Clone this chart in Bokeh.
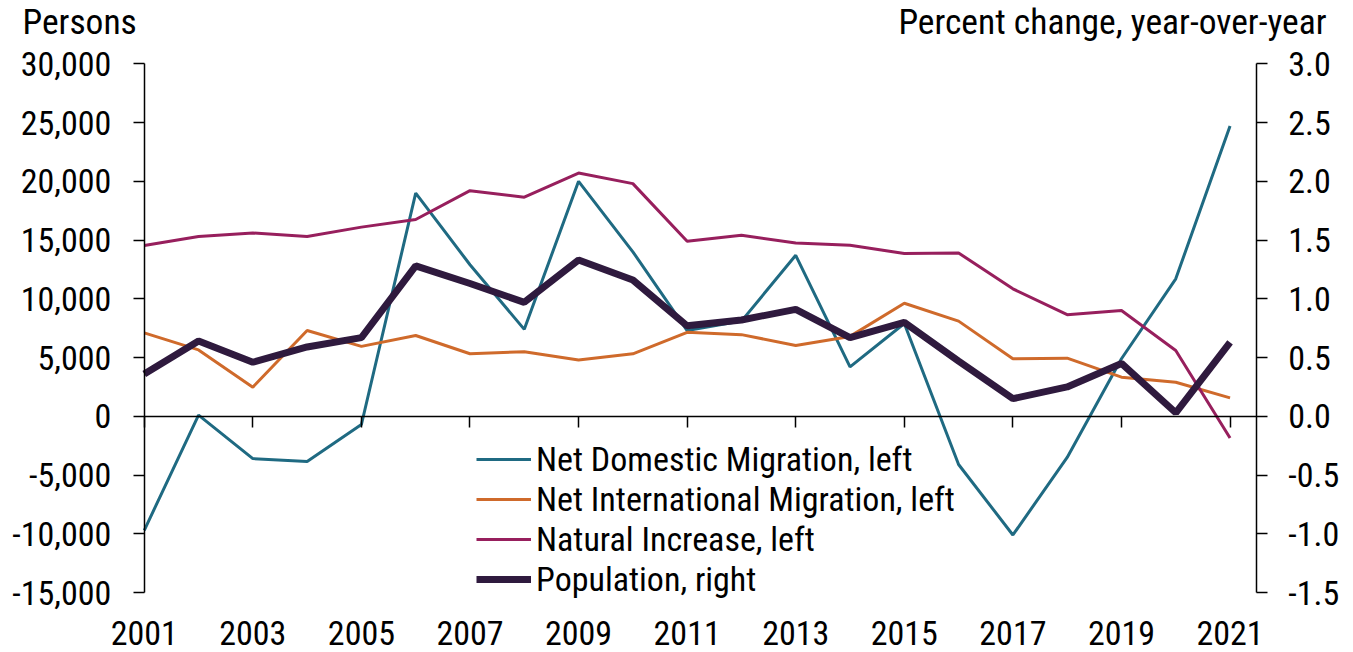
from bokeh.plotting import figure
from bokeh.models import (Range1d, LinearAxis, FixedTicker, NumeralTickFormatter,
                          Legend, LegendItem, Label)
from bokeh.embed import file_html
from bokeh.resources import INLINE

years = list(range(2001, 2022))
net_domestic = [-9700, 100, -3600, -3850, -700, 19000, 12900, 7400, 20000, 14000, 7300,
                8100, 13700, 4200, 7900, -4100, -10100, -3500, 4900, 11700, 24700]
net_international = [7100, 5650, 2480, 7300, 5950, 6880, 5320, 5500, 4800, 5320, 7150,
                     6950, 6030, 6800, 9620, 8100, 4900, 4950, 3330, 2900, 1570]
natural_increase = [14530, 15300, 15600, 15300, 16100, 16750, 19200, 18650, 20700, 19800, 14900,
                    15400, 14750, 14550, 13850, 13900, 10850, 8650, 9000, 5600, -1850]
population = [0.36, 0.64, 0.46, 0.59, 0.67, 1.28, 1.13, 0.97, 1.33, 1.16, 0.77,
              0.82, 0.91, 0.67, 0.80, 0.47, 0.15, 0.25, 0.45, 0.03, 0.63]

left_ticks = [-15000, -10000, -5000, 0, 5000, 10000, 15000, 20000, 25000, 30000]
right_ticks = [-1.5, -1.0, -0.5, 0.0, 0.5, 1.0, 1.5, 2.0, 2.5, 3.0]
year_ticks = [2001, 2003, 2005, 2007, 2009, 2011, 2013, 2015, 2017, 2019, 2021]

FONT = "Roboto Condensed"
FS = "34px"
FS_TITLE = "35.5px"
C_DOM = "#1f6a82"
C_INT = "#cf6a2b"
C_NAT = "#971f5d"
C_POP = "#2f1a3e"

W, H = 1353, 652
X_END = 2021.483  # right axis position
p = figure(width=W, height=H, output_backend="svg", toolbar_location=None,
           x_range=Range1d(1998.352, 2023.274), y_range=Range1d(-20102, 35387),
           min_border_left=0, min_border_right=0, min_border_top=0, min_border_bottom=0)
p.extra_y_ranges = {"right": Range1d(-2.0102, 3.5387)}
p.xgrid.visible = False
p.ygrid.visible = False
p.outline_line_color = None
p.background_fill_color = "white"
p.border_fill_color = "white"


def style_axis(ax, tick_out=11, standoff=22):
    ax.major_tick_out = tick_out
    ax.major_tick_in = 0
    ax.minor_tick_out = 0
    ax.minor_tick_in = 0
    ax.axis_line_width = 1.5
    ax.major_tick_line_width = 1.5
    ax.major_label_standoff = standoff
    ax.major_label_text_font = FONT
    ax.major_label_text_font_size = FS
    ax.major_label_text_color = "black"


# left axis at 2001
ya = p.yaxis[0]
ya.fixed_location = 2001
ya.bounds = (-15000, 30000)
ya.ticker = FixedTicker(ticks=left_ticks)
ya.formatter = NumeralTickFormatter(format="0,0")
style_axis(ya, 11, 22)

# right axis
ra = LinearAxis(y_range_name="right", ticker=FixedTicker(ticks=right_ticks),
                formatter=NumeralTickFormatter(format="0.0"), bounds=(-1.5, 3.0),
                fixed_location=X_END)
style_axis(ra, 11, 21)
p.add_layout(ra, "right")

# bottom labels axis (at -15000, labels only)
xa = p.xaxis[0]
xa.fixed_location = -15000
xa.ticker = FixedTicker(ticks=year_ticks)
style_axis(xa, 0, 28)
xa.axis_line_color = None
xa.major_tick_line_color = None
xa.minor_tick_line_color = None

# zero-line axis with tick marks
za = LinearAxis(fixed_location=0, ticker=FixedTicker(ticks=year_ticks), bounds=(2001, X_END))
style_axis(za, 11, 0)
za.major_label_text_alpha = 0
za.major_label_text_font_size = "1px"
p.add_layout(za, "below")

r_dom = p.line(years, net_domestic, line_color=C_DOM, line_width=3)
r_int = p.line(years, net_international, line_color=C_INT, line_width=3)
r_nat = p.line(years, natural_increase, line_color=C_NAT, line_width=3)
r_pop = p.line(years, population, line_color=C_POP, line_width=7, y_range_name="right")

legend = Legend(items=[
    LegendItem(label="Net Domestic Migration, left", renderers=[r_dom]),
    LegendItem(label="Net International Migration, left", renderers=[r_int]),
    LegendItem(label="Natural Increase, left", renderers=[r_nat]),
    LegendItem(label="Population, right", renderers=[r_pop]),
], location=(476, 53))
legend.label_text_font = FONT
legend.label_text_font_size = FS
legend.label_text_color = "black"
legend.glyph_width = 55
legend.glyph_height = 40
legend.label_height = 40
legend.label_standoff = 5
legend.spacing = 0
legend.padding = 0
legend.margin = 0
legend.border_line_alpha = 0
legend.background_fill_alpha = 0
p.add_layout(legend)

t_left = Label(x=22, y=H - 21, x_units="screen", y_units="screen", text="Persons",
               text_font=FONT, text_font_size=FS_TITLE, text_color="black",
               text_baseline="alphabetic", text_align="left")
t_right = Label(x=1326, y=H - 21, x_units="screen", y_units="screen",
                text="Percent change, year-over-year",
                text_font=FONT, text_font_size=FS_TITLE, text_color="black",
                text_baseline="alphabetic", text_align="right")
p.add_layout(t_left)
p.add_layout(t_right)

open("out.html", "w").write(file_html(p, INLINE))
